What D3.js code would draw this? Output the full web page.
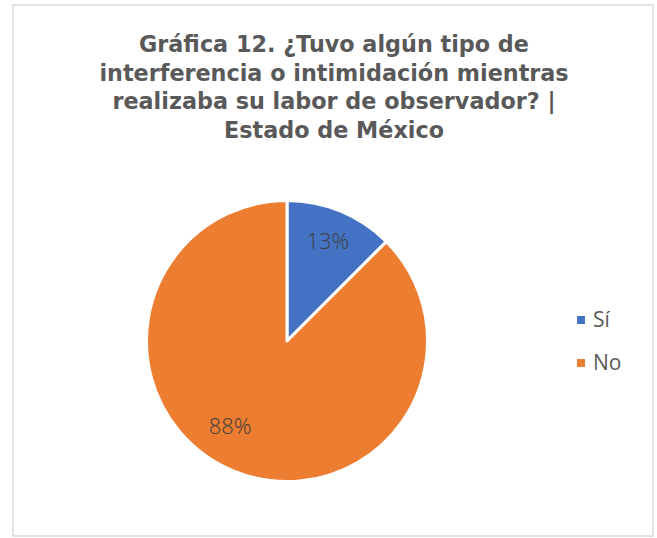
<!DOCTYPE html>
<html>
<head>
<meta charset="utf-8">
<script src="https://cdn.jsdelivr.net/npm/d3@7"></script>
<style>
    body { margin: 0; background: #fff; }
    svg text { font-family: "Open Sans", "Noto Sans", sans-serif; }
</style>
</head>
<body>
<div id="chart"></div>
<script>
const categories = ["Sí", "No"];
const values = [12.5, 87.5];
const colors = ["#4472C4", "#ED7D31"];
const titleLines = [
    "Gráfica 12. ¿Tuvo algún tipo de",
    "interferencia o intimidación mientras",
    "realizaba su labor de observador? |",
    "Estado de México"
];

document.addEventListener("DOMContentLoaded", draw);

function draw() {
    const width = 657;
    const height = 538;
    const svg = d3.select("#chart").append("svg")
        .attr("width", width)
        .attr("height", height);

    // chart frame
    svg.append("rect")
        .attr("x", 13)
        .attr("y", 5)
        .attr("width", 640)
        .attr("height", 531)
        .attr("fill", "#fff")
        .attr("stroke", "#d9d9d9")
        .attr("stroke-width", 1.5);

    // title (Montserrat isn't around, DejaVu is closest in width)
    svg.append("g")
        .selectAll("text")
        .data(titleLines)
        .enter()
        .append("text")
        .attr("x", 334)
        .attr("y", (d, i) => 52 + i * 28.7)
        .attr("text-anchor", "middle")
        .style("font-family", "'DejaVu Sans', sans-serif")
        .attr("font-size", 22.3)
        .attr("font-weight", 700)
        .attr("fill", "#595959")
        .text(d => d);

    const cx = 287, cy = 341, r = 140.5;
    const total = d3.sum(values);
    const pie = d3.pie().sort(null)(values);
    const arc = d3.arc().innerRadius(0).outerRadius(r);
    const labelArc = d3.arc().innerRadius(r * 0.76).outerRadius(r * 0.76);

    const g = svg.append("g")
        .attr("transform", `translate(${cx},${cy})`);

    g.selectAll("path")
        .data(pie)
        .enter()
        .append("path")
        .attr("d", arc)
        .attr("fill", (d, i) => colors[i])
        .attr("stroke", "#fff")
        .attr("stroke-width", 3)
        .attr("stroke-linejoin", "round");

    // Excel-ish best fit nudges
    const nudge = [[0, -1], [-16, -13]];
    g.selectAll("text")
        .data(pie)
        .enter()
        .append("text")
        .attr("transform", (d, i) => {
            const c = labelArc.centroid(d);
            return `translate(${c[0] + nudge[i][0]},${c[1] + nudge[i][1]})`;
        })
        .attr("text-anchor", "middle")
        .attr("dy", "0.35em")
        .attr("font-size", 22)
        .attr("font-weight", 300)
        .attr("fill", "#404040")
        .text(d => Math.round(d.value / total * 100) + "%");

    // legend
    const legend = svg.append("g")
        .selectAll("g")
        .data(categories)
        .enter()
        .append("g")
        .attr("transform", (d, i) => `translate(577,${320 + i * 43})`);
    legend.append("rect")
        .attr("x", 0)
        .attr("y", -4)
        .attr("width", 8)
        .attr("height", 8)
        .attr("fill", (d, i) => colors[i]);
    legend.append("text")
        .attr("x", 16)
        .attr("dy", "0.35em")
        .attr("font-size", 21)
        .attr("fill", "#595959")
        .text(d => d);
}
</script>
</body>
</html>
